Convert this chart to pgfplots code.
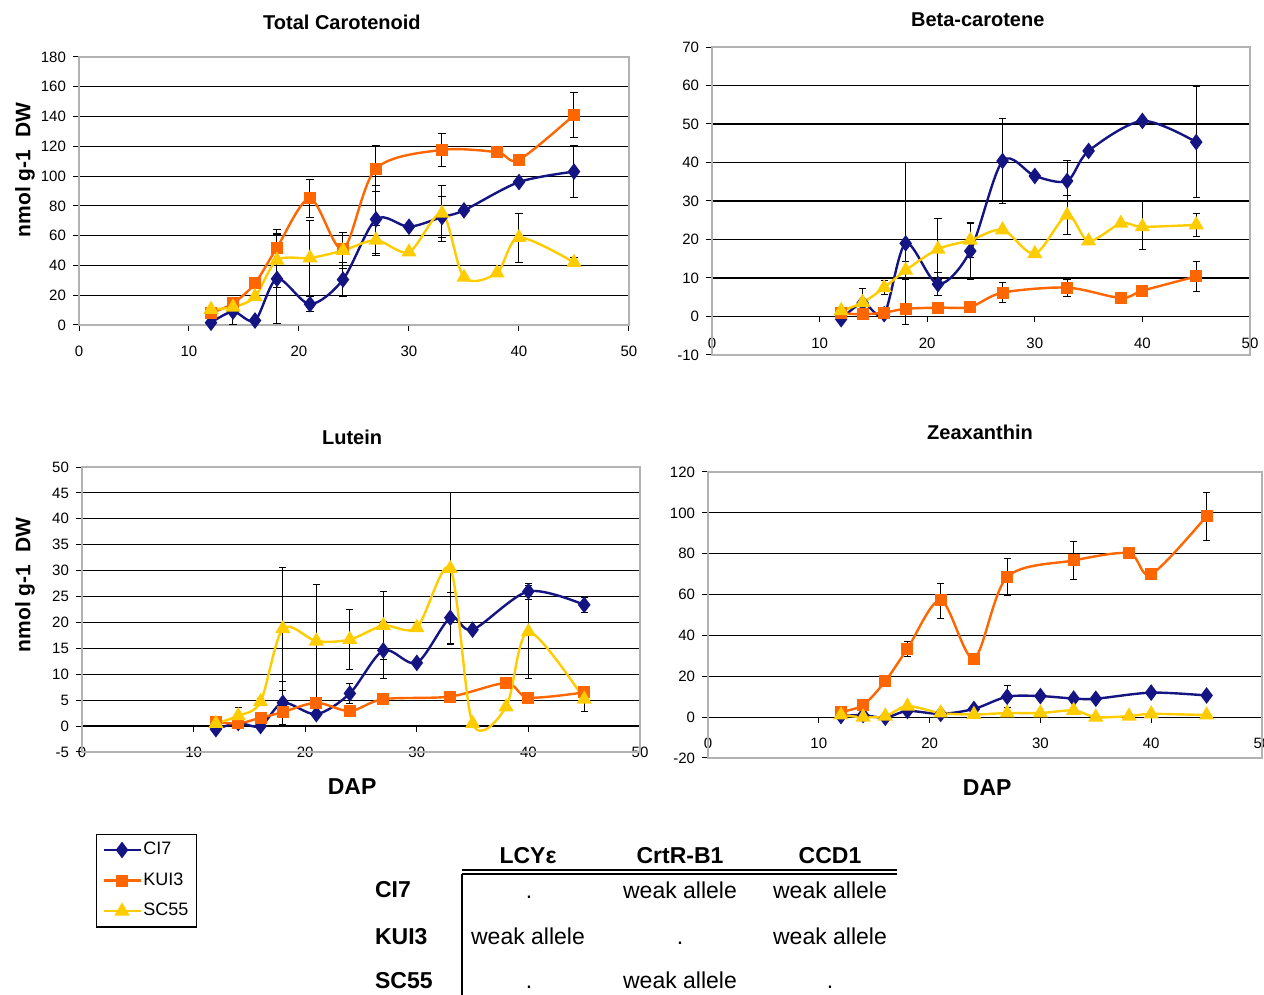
\documentclass[border=0pt]{standalone}
\usepackage{pgfplots}
\pgfplotsset{compat=1.18}
\usepackage{fontspec}
\setmainfont{Liberation Sans}
\definecolor{cnavy}{RGB}{20,20,130}
\definecolor{corange}{RGB}{255,102,0}
\definecolor{cyellow}{RGB}{255,204,0}
\pgfplotsset{
  ci7/.style={color=cnavy, line width=1.2pt, smooth, mark=diamond*, mark size=3.2pt, mark options={solid}},
  kui3/.style={color=corange, line width=1.2pt, smooth, mark=square*, mark size=2.4pt, mark options={solid}},
  sc55/.style={color=cyellow, line width=1.2pt, smooth, mark=triangle*, mark size=3.2pt, mark options={solid}},
  eb/.style={forget plot, draw=none, mark=none,
    error bars/y dir=both, error bars/y explicit,
    error bars/error bar style={draw=black, solid, line width=0.5pt},
    error bars/error mark options={draw=black, rotate=90, mark size=1.8pt, line width=0.5pt}},
  common/.style={scale only axis, anchor=south west,
    xmin=0, xmax=50, xtick={0,10,...,50},
    axis x line*=middle, axis y line*=left, hide obscured x ticks=false,
    ymajorgrids, grid style={black, line width=0.55pt},
    axis line style={black, line width=0.6pt},
    tick style={black, line width=0.5pt}, major tick length=3pt,
    xtick align=outside, ytick align=outside,
    tick label style={font=\fontsize{7.5}{8}\selectfont},
    /pgf/number format/assume math mode=true,
    clip=false, xticklabel style={yshift=-4pt},
    title style={font=\bfseries\fontsize{10}{12}\selectfont, anchor=center, yshift=-6pt},
    ylabel style={font=\bfseries\fontsize{10.5}{12}\selectfont, rotate=0},
    xlabel style={font=\bfseries\fontsize{11.5}{13}\selectfont},
    legend image code/.code={\draw[#1, mark repeat=2, mark phase=2] plot coordinates {(0cm,0cm) (0.32cm,0cm) (0.64cm,0cm)};},
  },
}
\newcommand{\gbox}{\draw[gray!60, line width=0.8pt] (rel axis cs:0,0) rectangle (rel axis cs:1,1);}
\begin{document}
\begin{tikzpicture}
\path[use as bounding box] (0,0) rectangle (632pt,497.5pt);
% ---------------- Total Carotenoid
\begin{axis}[common, at={(39.5pt,335pt)}, width=275pt, height=134pt,
  ymin=0, ymax=180, ytick={0,20,...,180},
  title={Total Carotenoid}, title style={at={(axis description cs:0.478,1.13)}},
  ylabel={nmol g-1~ DW}, ylabel style={at={(axis description cs:-0.098,0.578)}, anchor=center}]
\gbox
\addplot[eb] table[x index=0, y index=1, y error index=2] {
x y e
14 9 8.5
18 31 30
21 14 5
24 30.5 11.5
27 71 23
33 72.5 14
45 103 17.5
};
\addplot[eb] table[x index=0, y index=1, y error index=2] {
x y e
18 52 12
21 85 13
27 105 15.5
33 117.6 11
45 141 15
};
\addplot[eb] table[x index=0, y index=1, y error index=2] {
x y e
18 43.5 18
21 45 25
24 50 12
27 57 10
33 75 19
40 58.7 16.5
45 42 3
};
\addplot[ci7] table {
12 1.5
14 9
16 3
18 31
21 14
24 30.5
27 71
30 66
33 72.5
35 77
40 96
45 103
};
\addplot[kui3] table {
12 8
14 14.5
16 28
18 52
21 85
24 51
27 105
33 117.6
38 116
40 111
45 141
};
\addplot[sc55] table {
12 10.5
14 12
16 19
18 43.5
21 45
24 50
27 57
30 49
33 75
35 32
38 35
40 58.7
45 42
};
\end{axis}
% ---------------- Beta-carotene
\begin{axis}[common, at={(356pt,320pt)}, width=269pt, height=154pt,
  ymin=-10, ymax=70, ytick={-10,0,...,70},
  title={Beta-carotene}, title style={at={(axis description cs:0.494,1.088)}}]
\gbox
\addplot[eb] table[x index=0, y index=1, y error index=2] {
x y e
18 19 21
21 8.4 2.9
24 17 7.3
27 40.4 11
33 35.2 5.2
45 45.3 14.4
};
\addplot[eb] table[x index=0, y index=1, y error index=2] {
x y e
27 6.2 2.6
33 7.5 2.2
45 10.4 4
};
\addplot[eb] table[x index=0, y index=1, y error index=2] {
x y e
14 3.6 3.7
16 7.5 1.8
18 12 2.4
21 17.5 8
24 19.8 4.4
33 26.3 5
40 23.8 6.3
45 23.8 3
};
\addplot[ci7] table {
12 -0.7
14 3.5
16 0.6
18 19
21 8.4
24 17
27 40.4
30 36.5
33 35.2
35 43
40 50.8
45 45.3
};
\addplot[kui3] table {
12 0.8
14 0.6
16 1
18 2
21 2.3
24 2.5
27 6.2
33 7.5
38 4.8
40 6.7
45 10.4
};
\addplot[sc55] table {
12 1.5
14 3.6
16 7.5
18 12
21 17.5
24 19.8
27 22.5
30 16.3
33 26.3
35 19.6
38 24.2
40 23.3
45 23.8
};
\end{axis}
% ---------------- Lutein
\begin{axis}[common, at={(41pt,121.5pt)}, width=279pt, height=142.5pt,
  ymin=-5, ymax=50, ytick={-5,0,...,50},
  title={Lutein}, title style={at={(axis description cs:0.484,1.105)}},
  ylabel={nmol g-1~ DW}, ylabel style={at={(axis description cs:-0.102,0.586)}, anchor=center},
  xlabel={DAP}, xlabel style={at={(axis description cs:0.484,-0.123)}, anchor=center},
  legend style={at={(axis description cs:0.025,-0.286)}, anchor=north west, draw=black, line width=0.7pt,
    font=\fontsize{9}{10}\selectfont, inner sep=3pt, row sep=5.5pt, legend cell align=left,
    nodes={inner sep=1pt}}]
\gbox
\addplot[eb] table[x index=0, y index=1, y error index=2] {
x y e
18 4.5 4.2
24 6.3 1.9
27 14.6 5.5
33 20.9 4.9
40 26 1.5
45 23.4 1.4
};
\addplot[eb] table[x index=0, y index=1, y error index=2] {
x y e
45 6.5 0.9
};
\addplot[eb] table[x index=0, y index=1, y error index=2] {
x y e
14 2 1.6
16 4.7 0.7
18 18.8 11.9
21 16.4 11
24 16.7 5.8
27 19.4 6.5
33 30.4 14.6
40 18.2 9
45 5.2 2.3
};
\addplot[ci7] table {
12 -0.6
14 0.6
16 0
18 4.5
21 2.3
24 6.3
27 14.6
30 12.2
33 20.9
35 18.6
40 26
45 23.4
};
\addplot[kui3] table {
12 0.8
14 0.5
16 1.6
18 2.7
21 4.5
24 2.9
27 5.2
33 5.7
38 8.3
40 5.5
45 6.5
};
\addplot[sc55] table {
12 0.5
14 2
16 4.7
18 18.8
21 16.4
24 16.7
27 19.4
30 19
33 30.4
35 0.5
38 3.7
40 18.2
45 5.2
};
\legend{CI7,KUI3,SC55}
\end{axis}
% ---------------- Zeaxanthin
\begin{axis}[common, at={(354pt,118.5pt)}, width=277pt, height=143pt,
  ymin=-20, ymax=120, ytick={-20,0,...,120},
  title={Zeaxanthin}, title style={at={(axis description cs:0.491,1.14)}},
  xlabel={DAP}, xlabel style={at={(axis description cs:0.504,-0.105)}, anchor=center}]
\gbox
\addplot[eb] table[x index=0, y index=1, y error index=2] {
x y e
27 10 5.5
};
\addplot[eb] table[x index=0, y index=1, y error index=2] {
x y e
14 5.9 2.8
18 33.5 3.7
21 57 8.5
27 68.6 9.2
33 76.7 9.3
45 98.4 11.7
};
\addplot[ci7] table {
12 0.5
14 1
16 -0.3
18 3
21 1.6
24 4
27 10
30 10.3
33 9.1
35 9
40 12
45 10.6
};
\addplot[kui3] table {
12 2.6
14 5.9
16 17.6
18 33.5
21 57.3
24 28.7
27 68.6
33 76.7
38 80.2
40 69.9
45 98.4
};
\addplot[sc55] table {
12 1
14 0
16 0.5
18 5.4
21 2
24 1.3
27 2
30 2
33 3.3
35 0
38 0.5
40 1.6
45 1
};
\end{axis}
% ---------------- table
\begin{scope}[font=\fontsize{11.5}{13}\selectfont, every node/.style={text height=8.5pt, text depth=2.5pt}]
\node[font=\bfseries\fontsize{11.5}{13}\selectfont] at (264pt,68.5pt) {LCYε};
\node[font=\bfseries\fontsize{11.5}{13}\selectfont] at (340pt,68.5pt) {CrtR-B1};
\node[font=\bfseries\fontsize{11.5}{13}\selectfont] at (415pt,68.5pt) {CCD1};
\draw[line width=0.7pt] (231pt,62.5pt) -- (448.5pt,62.5pt);
\draw[line width=0.7pt] (231pt,60.5pt) -- (448.5pt,60.5pt);
\draw[line width=0.7pt] (231pt,60.5pt) -- (231pt,0pt);
\node[anchor=west, font=\bfseries\fontsize{11.5}{13}\selectfont] at (184pt,51.5pt) {CI7};
\node[anchor=west, font=\bfseries\fontsize{11.5}{13}\selectfont] at (184pt,28pt) {KUI3};
\node[anchor=west, font=\bfseries\fontsize{11.5}{13}\selectfont] at (184pt,6pt) {SC55};
\node at (264.5pt,51pt) {.};
\node at (340pt,51pt) {weak allele};
\node at (415pt,51pt) {weak allele};
\node at (264pt,28pt) {weak allele};
\node at (340pt,28pt) {.};
\node at (415pt,28pt) {weak allele};
\node at (264.5pt,6pt) {.};
\node at (340pt,6pt) {weak allele};
\node at (415pt,6pt) {.};
\end{scope}
\end{tikzpicture}
\end{document}
